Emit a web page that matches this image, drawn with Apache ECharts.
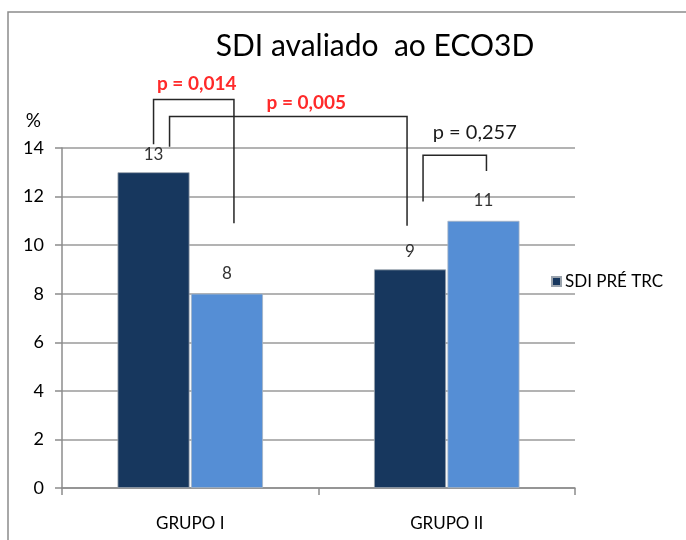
<!DOCTYPE html>
<html>
<head>
<meta charset="utf-8">
<style>
  html, body { margin: 0; padding: 0; background: #fff; }
  #main { width: 686px; height: 540px; }
</style>
</head>
<body>
<div id="main"></div>
<script src="https://cdn.jsdelivr.net/npm/echarts@6/dist/echarts.min.js"></script>
<script>
var categories = ['GRUPO I', 'GRUPO II'];
var preValues = [13, 9];
var posValues = [8, 11];
var seriesNames = ['SDI PRÉ TRC', 'SDI PÓS TRC'];
var yTicks = { min: 0, max: 14, interval: 2 };

// brackets between bars ([category, series, px nudge]); level and leg ends in %
var brackets = [
    { text: 'p = 0,014', red: true,  a: [0, 0, 0],  b: [0, 1, 7],  top: 16.0, endA: 14.15, endB: 10.9 },
    { text: 'p = 0,005', red: true,  a: [0, 0, 16], b: [1, 0, -3], top: 15.3, endA: 14.05, endB: 10.8 },
    { text: 'p = 0,257', red: false, a: [1, 0, 13], b: [1, 1, 3],  top: 13.7, endA: 11.8,  endB: 13.05 }
];
// where each p label sits relative to its bracket (dx from middle, dy above top)
var labelPos = [[3, 16], [18, 14], [20, 23]];

var fontFam = 'Lato, "Open Sans", sans-serif';
var myChart = echarts.init(document.getElementById('main'));

var option = {
    animation: false,
    textStyle: { fontFamily: fontFam },
    title: {
        text: 'SDI avaliado  ao ECO3D',
        left: 370,
        textAlign: 'center',
        top: 26,
        textStyle: { fontSize: 30, fontWeight: 'normal', color: '#000', fontFamily: fontFam }
    },
    legend: {
        data: [seriesNames[0]],
        left: 546,
        top: 268,
        itemWidth: 9,
        itemHeight: 9,
        itemGap: 4,
        icon: 'rect',
        textStyle: { fontSize: 17, color: '#000', padding: [0, 0, 0, -1] }
    },
    grid: { left: 62, right: 111, top: 148, bottom: 52 },
    xAxis: {
        type: 'category',
        data: categories,
        axisLine: { lineStyle: { color: '#8c8c8c', width: 1.5 } },
        axisTick: { show: true, length: 7, lineStyle: { color: '#8c8c8c', width: 1.5 } },
        axisLabel: { fontSize: 17, color: '#000', margin: 27, fontFamily: fontFam }
    },
    yAxis: {
        type: 'value',
        min: yTicks.min,
        max: yTicks.max,
        interval: yTicks.interval,
        name: '%',
        nameLocation: 'end',
        nameGap: 18,
        nameTextStyle: { fontSize: 19, color: '#000', align: 'right', padding: [0, 21, 0, 0] },
        axisLine: { show: true, lineStyle: { color: '#8c8c8c', width: 1.5 } },
        axisTick: { show: true, length: 7, lineStyle: { color: '#8c8c8c', width: 1.5 } },
        axisLabel: { fontSize: 18, color: '#000', margin: 18, fontFamily: fontFam },
        splitLine: { lineStyle: { color: '#9a9a9a', width: 1.5 } }
    },
    series: [
        {
            name: seriesNames[0],
            type: 'bar',
            data: preValues,
            barWidth: 72,
            barGap: '2%',
            itemStyle: { color: '#17375e', borderColor: '#9aa3ad', borderWidth: 0.8 },
            label: { show: true, position: 'top', distance: 9, fontSize: 17, color: '#333', fontFamily: fontFam }
        },
        {
            name: seriesNames[1],
            type: 'bar',
            data: posValues,
            barWidth: 72,
            itemStyle: { color: '#558ed5', borderColor: '#a6b4c4', borderWidth: 0.8 },
            label: { show: true, position: 'top', distance: 12, fontSize: 17, color: '#333', fontFamily: fontFam }
        }
    ]
};
myChart.setOption(option);

// bar centre in pixels: category centre shifted by half bar + half gap
function barX(ref) {
    var c = myChart.convertToPixel({ xAxisIndex: 0 }, ref[0]);
    var shift = ref[1] === 0 ? -36.7 : 36.7;
    return c + shift + ref[2];
}
function py(v) {
    return myChart.convertToPixel({ yAxisIndex: 0 }, v);
}

var graphics = [{
    type: 'rect',
    shape: { x: 8, y: 12, width: 720, height: 560 },
    style: { fill: 'none', stroke: '#8c8c8c', lineWidth: 1.5 },
    silent: true
}];
brackets.forEach(function (b, i) {
    var x1 = barX(b.a), x2 = barX(b.b);
    var yt = py(b.top);
    graphics.push({
        type: 'polyline',
        shape: { points: [[x1, py(b.endA)], [x1, yt], [x2, yt], [x2, py(b.endB)]] },
        style: { fill: 'none', stroke: '#262626', lineWidth: 1.5 },
        z: 10
    });
    graphics.push({
        type: 'text',
        x: (x1 + x2) / 2 + labelPos[i][0],
        y: yt - labelPos[i][1],
        style: {
            text: b.text,
            fill: b.red ? '#ff2a2a' : '#1a1a1a',
            font: (b.red ? 'bold 19px ' : '20px ') + fontFam,
            align: 'center',
            verticalAlign: 'middle'
        },
        z: 10
    });
});
myChart.setOption({ graphic: graphics });
</script>
</body>
</html>
